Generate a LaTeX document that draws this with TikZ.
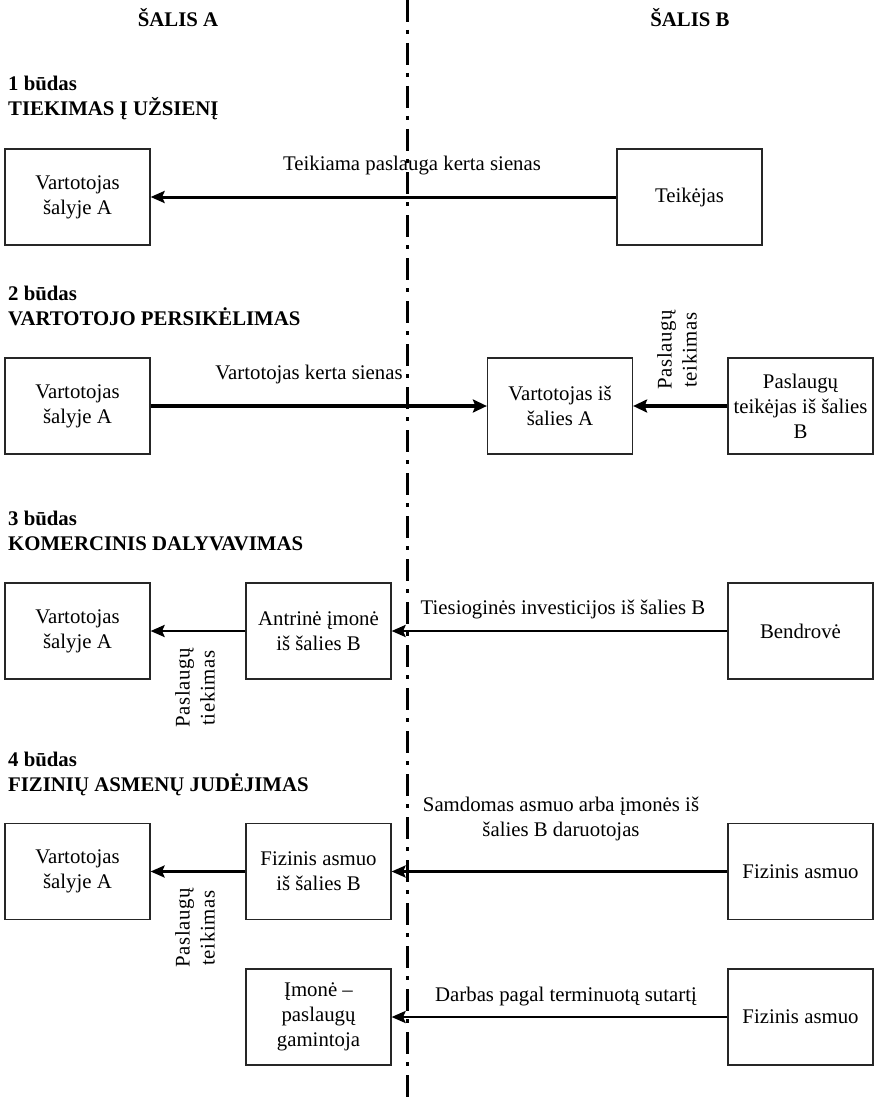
\documentclass[tikz,border=0pt]{standalone}
\usepackage{fontspec}
\setmainfont{Liberation Serif}
\usetikzlibrary{arrows.meta}
\begin{document}
\begin{tikzpicture}[x=1pt,y=-1pt,
  every node/.style={font=\fontsize{20.8}{25}\selectfont, inner sep=0pt},
  box/.style={draw=black!85, line width=1.2pt, minimum width=145pt, minimum height=96pt, align=center},
  flow/.style={line width=2.6pt, -{Stealth[length=14pt,width=12pt,inset=2.5pt]}},
  bigflow/.style={line width=4pt, -{Stealth[length=14pt,width=13pt,inset=2.5pt]}},
  hdr/.style={font=\bfseries\fontsize{20.8}{25}\selectfont, anchor=base west},
  colhdr/.style={font=\bfseries\fontsize{20.8}{25}\selectfont, anchor=base},
  lbl/.style={align=center, anchor=base},
  rot/.style={rotate=90, align=center, font=\addfontfeature{LetterSpace=3}\fontsize{20.8}{25}\selectfont},
  divider/.style={line width=3pt, dash pattern=on 22pt off 8pt on 4pt off 9pt}]
\useasboundingbox (0,0) rectangle (877,1097);

% divider
\coordinate (divtop) at (407,0);
\coordinate (divbot) at (407,1097);
\draw[divider] (divtop) -- (divbot);

% column headers
\node[colhdr] (hA) at (178,27) {ŠALIS A};
\node[colhdr] (hB) at (690,27) {ŠALIS B};

% mode 1
\node[hdr] (m1a) at (8,91) {1 būdas};
\node[hdr] (m1b) at (8,116) {TIEKIMAS Į UŽSIENĮ};
\node[box] (c1) at (77.5,197) {Vartotojas\\šalyje A};
\node[box] (t1) at (689.5,197) {Teikėjas};
\draw[flow, line width=3pt] (t1.west) -- (c1.east);
\node[lbl] (l1) at (412,170) {Teikiama paslauga kerta sienas};

% mode 2
\node[hdr] (m2a) at (8,300) {2 būdas};
\node[hdr] (m2b) at (8,325) {VARTOTOJO PERSIKĖLIMAS};
\node[box] (c2) at (77.5,406) {Vartotojas\\šalyje A};
\node[box] (v2) at (560,406) {Vartotojas iš\\šalies A};
\node[box] (p2) at (800.5,406) {Paslaugų\\teikėjas iš šalies\\B};
\draw[bigflow] (c2.east) -- (v2.west);
\draw[bigflow] (p2.west) -- (v2.east);
\node[lbl] (l2) at (309,379) {Vartotojas kerta sienas};
\node[rot] (r2) at (677,350) {Paslaugų\\teikimas};

% mode 3
\node[hdr] (m3a) at (8,525) {3 būdas};
\node[hdr] (m3b) at (8,550) {KOMERCINIS DALYVAVIMAS};
\node[box] (c3) at (77.5,631) {Vartotojas\\šalyje A};
\node[box] (a3) at (318.5,631) {Antrinė įmonė\\iš šalies B};
\node[box] (b3) at (800.5,631) {Bendrovė};
\draw[flow] (b3.west) -- (a3.east);
\draw[flow] (a3.west) -- (c3.east);
\node[lbl] (l3) at (563,614) {Tiesioginės investicijos iš šalies B};
\node[rot] (r3) at (195,688) {Paslaugų\\tiekimas};

% mode 4
\node[hdr] (m4a) at (8,766) {4 būdas};
\node[hdr] (m4b) at (8,791) {FIZINIŲ ASMENŲ JUDĖJIMAS};
\node[box] (c4) at (77.5,871.5) {Vartotojas\\šalyje A};
\node[box] (f4) at (318.5,871.5) {Fizinis asmuo\\iš šalies B};
\node[box] (g4) at (800.5,871.5) {Fizinis asmuo};
\draw[flow] (g4.west) -- (f4.east);
\draw[flow] (f4.west) -- (c4.east);
\node[lbl] (l4) at (561,836) {Samdomas asmuo arba įmonės iš\\šalies B daruotojas};
\node[rot] (r4) at (195,928) {Paslaugų\\teikimas};

\node[box] (i5) at (318.5,1017) {Įmonė –\\paslaugų\\gamintoja};
\node[box] (g5) at (800.5,1017) {Fizinis asmuo};
\draw[flow] (g5.west) -- (i5.east);
\node[lbl] (l5) at (566,1001) {Darbas pagal terminuotą sutartį};
\end{tikzpicture}
\end{document}
